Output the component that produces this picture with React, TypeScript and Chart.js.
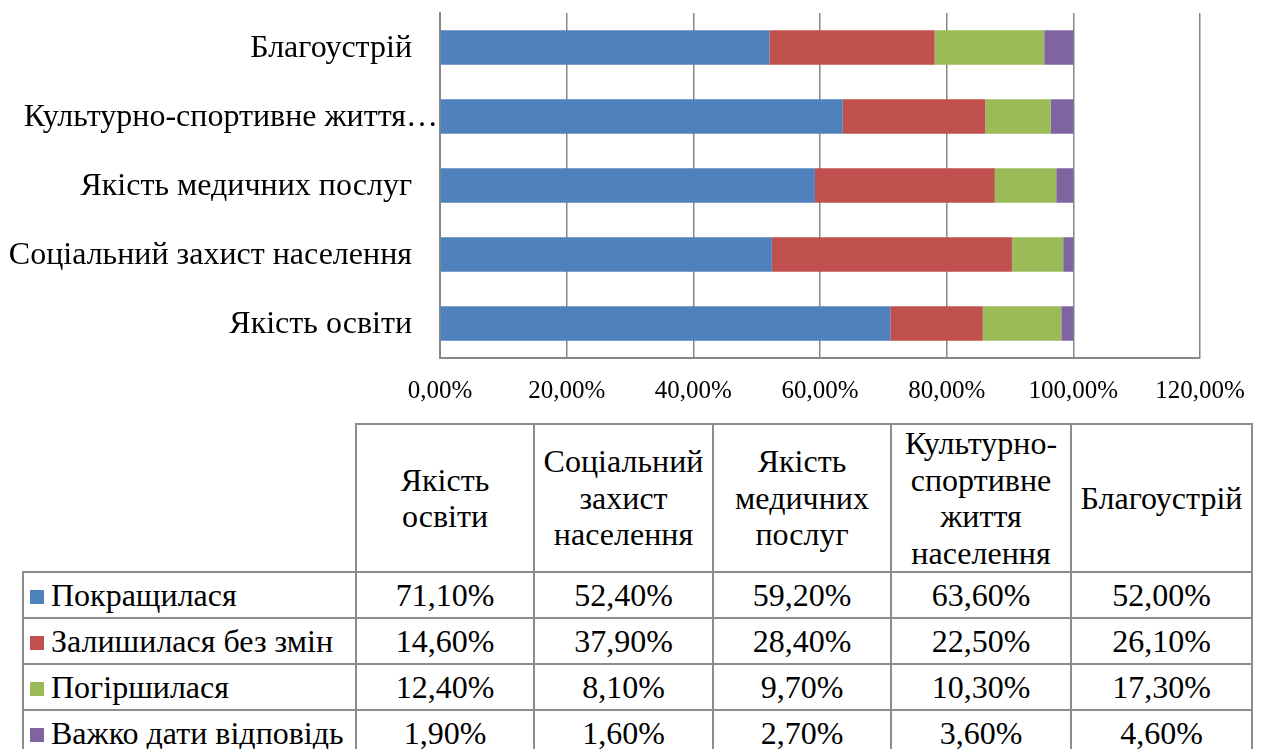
import React, { useEffect, useRef } from "react";
import { Chart, registerables } from "chart.js";

Chart.register(...registerables);

const categories = [
  "Якість освіти",
  "Соціальний захист населення",
  "Якість медичних послуг",
  "Культурно-спортивне життя населення",
  "Благоустрій",
];
const seriesNames = ["Покращилася", "Залишилася без змін", "Погіршилася", "Важко дати відповідь"];
const improved = [71.1, 52.4, 59.2, 63.6, 52.0];
const unchanged = [14.6, 37.9, 28.4, 22.5, 26.1];
const worsened = [12.4, 8.1, 9.7, 10.3, 17.3];
const hardToSay = [1.9, 1.6, 2.7, 3.6, 4.6];
const seriesValues = [improved, unchanged, worsened, hardToSay];
const seriesColors = ["#4F81BD", "#C0504D", "#9BBB59", "#8064A2"];
const xMin = 0;
const xMax = 120;
const xStep = 20;

const fmt = (v: number) => v.toFixed(2).replace(".", ",") + "%";
const FONT = '"Liberation Serif", "Times New Roman", serif';

const yLabelPlugin = {
  id: "yLabels",
  afterDraw(chart: any) {
    const ctx = chart.ctx;
    const y = chart.scales.y;
    ctx.save();
    ctx.font = `32px ${FONT}`;
    ctx.fillStyle = "#000";
    ctx.textAlign = "right";
    ctx.textBaseline = "middle";
    const labels: string[] = chart.data.labels;
    labels.forEach((lab, i) => {
      const py = y.getPixelForValue(i);
      let text = lab;
      let right = y.right - 28;
      if (ctx.measureText(text).width > right - 4) {
        const words = lab.split(" ");
        while (words.length > 1 && ctx.measureText(words.join(" ") + "…").width > y.right - 22) {
          words.pop();
        }
        text = words.join(" ") + "…";
        right = y.right - 2;
      }
      ctx.fillText(text, right, py + 1);
    });
    ctx.restore();
  },
};

export default function App() {
  const ref = useRef<HTMLCanvasElement | null>(null);

  useEffect(() => {
    if (!ref.current) return;
    const chart = new Chart(ref.current, {
      type: "bar",
      data: {
        labels: categories,
        datasets: seriesNames.map((name, i) => ({
          label: name,
          data: seriesValues[i],
          backgroundColor: seriesColors[i],
          borderWidth: 0,
          barPercentage: 0.5,
          categoryPercentage: 1.0,
        })),
      },
      options: {
        indexAxis: "y",
        animation: false,
        responsive: false,
        maintainAspectRatio: false,
        layout: { padding: { top: 13, right: 61, left: 0, bottom: 0 } },
        plugins: { legend: { display: false }, tooltip: { enabled: false } },
        scales: {
          x: {
            stacked: true,
            min: xMin,
            max: xMax,
            ticks: {
              stepSize: xStep,
              callback: (v: any) => fmt(Number(v)),
              font: { family: FONT, size: 25 },
              color: "#000",
              padding: 18,
              maxRotation: 0,
            },
            grid: { color: "#888888", lineWidth: 1.5, drawTicks: false },
            border: { display: true, color: "#888888", width: 2 },
            afterFit: (s: any) => {
              s.height = 57;
              s.paddingLeft = 0;
              s.paddingRight = 0;
            },
          },
          y: {
            stacked: true,
            reverse: true,
            ticks: { display: false },
            grid: { display: false, drawTicks: false },
            border: { display: true, color: "#888888", width: 2 },
            afterFit: (s: any) => {
              s.width = 440;
            },
          },
        },
      },
      plugins: [yLabelPlugin],
    } as any);
    return () => chart.destroy();
  }, []);

  const border = "2px solid #8c8c8c";
  const cellBase: React.CSSProperties = {
    border,
    padding: 0,
    textAlign: "center",
    verticalAlign: "middle",
  };

  return (
    <div style={{ position: "absolute", left: 0, top: 0, width: 1261, height: 749, background: "#fff", overflow: "hidden" }}>
      <canvas ref={ref} width={1261} height={415} style={{ display: "block", position: "absolute", left: 0, top: 0 }} />
      <table
        style={{
          position: "absolute",
          left: 22,
          top: 423,
          borderCollapse: "collapse",
          tableLayout: "fixed",
          fontFamily: FONT,
          fontSize: 32,
          color: "#000",
          width: 1229,
        }}
      >
        <colgroup>
          <col style={{ width: 333 }} />
          <col style={{ width: 178 }} />
          <col style={{ width: 179 }} />
          <col style={{ width: 178 }} />
          <col style={{ width: 180 }} />
          <col style={{ width: 181 }} />
        </colgroup>
        <thead>
          <tr style={{ height: 148 }}>
            <th style={{ border: "none", padding: 0 }}></th>
            {categories.map((c) => (
              <th key={c} style={{ ...cellBase, fontWeight: "normal", lineHeight: "36.5px", padding: "0 2px" }}>
                {c}
              </th>
            ))}
          </tr>
        </thead>
        <tbody>
          {seriesNames.map((name, si) => (
            <tr key={name} style={{ height: 46 }}>
              <td style={{ ...cellBase, textAlign: "left", whiteSpace: "nowrap", lineHeight: "40px" }}>
                <span
                  style={{
                    display: "inline-block",
                    width: 14,
                    height: 14,
                    background: seriesColors[si],
                    marginLeft: 6,
                    marginRight: 7,
                    verticalAlign: "middle",
                    position: "relative",
                    top: -2,
                  }}
                />
                {name}
              </td>
              {seriesValues[si].map((v, ci) => (
                <td key={ci} style={{ ...cellBase, lineHeight: "40px" }}>
                  {fmt(v)}
                </td>
              ))}
            </tr>
          ))}
        </tbody>
      </table>
    </div>
  );
}
